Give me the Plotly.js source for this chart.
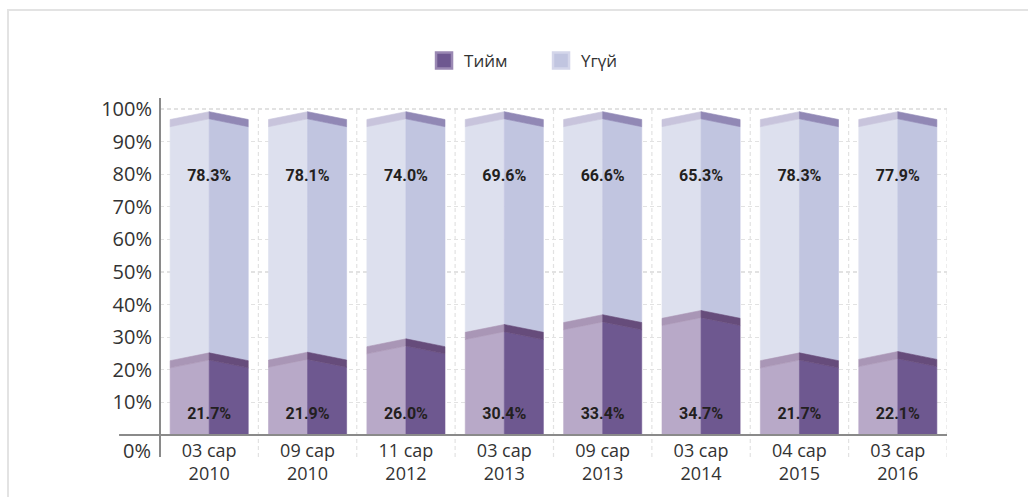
<!DOCTYPE html>
<html>
<head>
<meta charset="utf-8">
<script src="https://cdn.plot.ly/plotly-3.0.1.min.js"></script>
<style>
  html, body { margin: 0; padding: 0; background: #ffffff; }
  #wrap { position: relative; width: 1028px; height: 497px; overflow: hidden; }
  #frame { position: absolute; left: 7px; top: 9px; right: -10px; bottom: -10px;
           border-top: 2px solid #e3e3e3; border-left: 2px solid #e3e3e3; pointer-events: none; }
  #chart { position: absolute; left: 0; top: 0; width: 1028px; height: 497px; }
</style>
</head>
<body>
<div id="wrap">
  <div id="frame"></div>
  <div id="chart"></div>
</div>
<script>
// ---- data ----
const periods = ['03 сар', '09 сар', '11 сар', '03 сар', '09 сар', '03 сар', '04 сар', '03 сар'];
const years = ['2010', '2010', '2012', '2013', '2013', '2014', '2015', '2016'];
const yesValues = [21.7, 21.9, 26.0, 30.4, 33.4, 34.7, 21.7, 22.1];
const noValues = [78.3, 78.1, 74.0, 69.6, 66.6, 65.3, 78.3, 77.9];
const seriesNames = ['Тийм', 'Үгүй'];
const yTickValues = [10, 20, 30, 40, 50, 60, 70, 80, 90, 100];

// ---- style ----
const HW = 0.397;       // half bar width (category units)
const RISE = 2.4;       // roof rise in % units (pseudo-3D)
const BAND = 2.2;       // roof band thickness
const TOP_INSET = 4.3;  // depth inset of the top roof
const LABEL_Y_LOW = 6.1, LABEL_Y_HIGH = 79.1;
const colors = {
  yesLeft: '#b8a9c8', yesRight: '#6e5890',
  yesRoofLeft: '#a996b6', yesRoofRight: '#664c7b',
  noLeft: '#dde0ee', noRight: '#c1c5e0',
  noRoofLeft: '#c8c4dc', noRoofRight: '#9188b5'
};

const idx = periods.map((_, i) => i);

function buildPoly(side, geom) {
  const xs = [], ys = [];
  idx.forEach(i => {
    const g = geom(i);
    if (side < 0) {
      xs.push(i - HW, i - HW, i, i, i - HW, null);
      ys.push(g.lowE, g.highE, g.highC, g.lowC, g.lowE, null);
    } else {
      xs.push(i, i, i + HW, i + HW, i, null);
      ys.push(g.lowC, g.highC, g.highE, g.lowE, g.lowC, null);
    }
  });
  return { x: xs, y: ys };
}

const yesFace = i => {
  const v = yesValues[i];
  return { lowE: 0, lowC: 0, highE: v - BAND / 2, highC: v - BAND / 2 + RISE };
};
const yesRoof = i => {
  const v = yesValues[i];
  return { lowE: v - BAND / 2, lowC: v - BAND / 2 + RISE, highE: v + BAND / 2, highC: v + BAND / 2 + RISE };
};
const noFace = i => {
  const v = yesValues[i], T = yesValues[i] + noValues[i] - TOP_INSET;
  return { lowE: v + BAND / 2, lowC: v + BAND / 2 + RISE, highE: T - BAND / 2, highC: T - BAND / 2 + RISE };
};
const noRoof = i => {
  const T = yesValues[i] + noValues[i] - TOP_INSET;
  return { lowE: T - BAND / 2, lowC: T - BAND / 2 + RISE, highE: T + BAND / 2, highC: T + BAND / 2 + RISE };
};

function polyTrace(side, geom, color) {
  const p = buildPoly(side, geom);
  return {
    type: 'scatter', mode: 'lines', x: p.x, y: p.y, fill: 'toself', fillcolor: color,
    line: { width: 0.6, color: color }, hoverinfo: 'skip', showlegend: false
  };
}

const labelFont = { family: 'Roboto, Arial, sans-serif', size: 16, color: '#231f20', weight: 700 };

const traces = [
  polyTrace(-1, yesFace, colors.yesLeft),
  polyTrace(1, yesFace, colors.yesRight),
  polyTrace(-1, noFace, colors.noLeft),
  polyTrace(1, noFace, colors.noRight),
  polyTrace(-1, yesRoof, colors.yesRoofLeft),
  polyTrace(1, yesRoof, colors.yesRoofRight),
  polyTrace(-1, noRoof, colors.noRoofLeft),
  polyTrace(1, noRoof, colors.noRoofRight),
  {
    type: 'scatter', mode: 'text', x: idx, y: idx.map(() => LABEL_Y_LOW),
    text: yesValues.map(v => v.toFixed(1) + '%'), textfont: labelFont,
    hoverinfo: 'skip', showlegend: false
  },
  {
    type: 'scatter', mode: 'text', x: idx, y: idx.map(() => LABEL_Y_HIGH),
    text: noValues.map(v => v.toFixed(1) + '%'), textfont: labelFont,
    hoverinfo: 'skip', showlegend: false
  },
  {
    type: 'scatter', mode: 'markers', x: [null], y: [null], name: seriesNames[0],
    marker: { symbol: 'square', size: 16, color: colors.yesRight, line: { color: '#9a88b3', width: 2.5 } }
  },
  {
    type: 'scatter', mode: 'markers', x: [null], y: [null], name: seriesNames[1],
    marker: { symbol: 'square', size: 16, color: colors.noRight, line: { color: '#d4d6ea', width: 2.5 } }
  }
];

const Y_MAX = 103.4;
const shapes = [];
// vertical dashed grid lines at category boundaries
idx.forEach(i => {
  shapes.push({
    type: 'line', layer: 'below', xref: 'x', yref: 'paper',
    x0: i + 0.5, x1: i + 0.5, y0: -0.065, y1: 100 / Y_MAX,
    line: { color: '#e2e2e2', width: 1.2, dash: '4px,3px' }
  });
});
// axis lines
shapes.push({ type: 'line', layer: 'above', xref: 'paper', yref: 'paper', x0: 0, x1: 0, y0: -0.065, y1: 1,
  line: { color: '#8a8a8a', width: 2 } });
shapes.push({ type: 'line', layer: 'above', xref: 'paper', yref: 'paper', x0: -0.052, x1: 1, y0: 0, y1: 0,
  line: { color: '#8a8a8a', width: 2 } });

const layout = {
  width: 1028, height: 497,
  margin: { l: 160, r: 81, t: 98, b: 62, pad: 0 },
  paper_bgcolor: 'rgba(0,0,0,0)', plot_bgcolor: 'rgba(0,0,0,0)',
  font: { family: '"Open Sans", sans-serif', color: '#333333' },
  showlegend: true,
  legend: {
    orientation: 'h', x: 0.3355, xanchor: 'left', y: 1.11, yanchor: 'middle',
    font: { size: 17, color: '#333333', family: '"Open Sans", sans-serif' },
    itemsizing: 'trace', bgcolor: 'rgba(0,0,0,0)',
    entrywidth: 72, entrywidthmode: 'pixels'
  },
  xaxis: {
    range: [-0.5, 7.5], tickmode: 'array', tickvals: idx,
    ticktext: idx.map(i => periods[i] + '<br>' + years[i]),
    showgrid: false, zeroline: false, showline: false, ticks: '',
    tickfont: { size: 18, color: '#333333' }, ticklabelstandoff: 3, fixedrange: true
  },
  yaxis: {
    range: [0, Y_MAX], tickmode: 'array', tickvals: yTickValues,
    ticktext: yTickValues.map(v => v + '%'),
    showgrid: true, gridcolor: '#e2e2e2', griddash: '4px,3px', gridwidth: 1.2,
    zeroline: false, showline: false, ticks: '',
    tickfont: { size: 20, color: '#333333' }, ticklabelstandoff: 7, fixedrange: true
  },
  annotations: [{
    xref: 'paper', yref: 'y', x: 0, y: 0, xanchor: 'right', yanchor: 'middle',
    xshift: -7, yshift: -15, text: '0%', showarrow: false,
    font: { size: 20, color: '#333333', family: '"Open Sans", sans-serif' }
  }],
  shapes: shapes
};

Plotly.newPlot('chart', traces, layout, { displayModeBar: false, staticPlot: true });
</script>
</body>
</html>
